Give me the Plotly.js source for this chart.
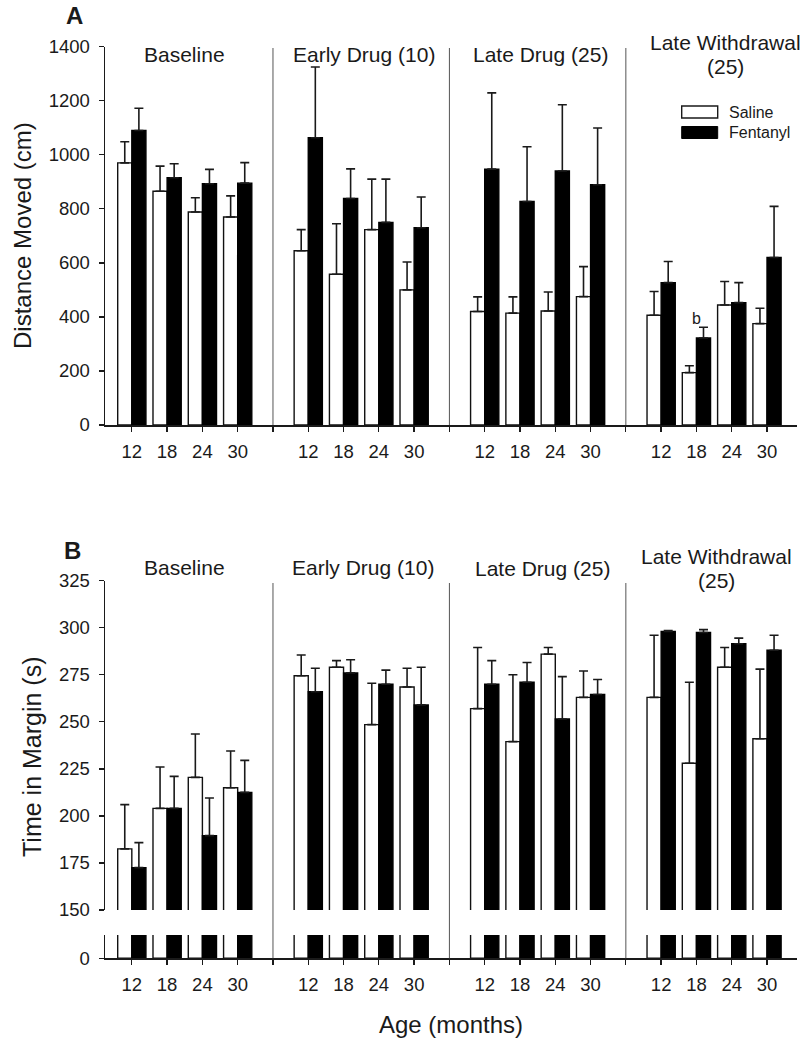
<!DOCTYPE html>
<html><head><meta charset="utf-8">
<script src="https://cdn.plot.ly/plotly-3.0.1.min.js"></script>
<style>html,body{margin:0;padding:0;background:#fff}</style>
</head><body><div id="chart" style="width:800px;height:1041px"></div>
<script>
const phases = ['Baseline', 'Early Drug (10)', 'Late Drug (25)', 'Late Withdrawal<br>(25)'];
const ages = ['12', '18', '24', '30'];
const seriesNames = ['Saline', 'Fentanyl'];

const distSaline     = [970, 865, 788, 770,   645, 558, 723, 500,   420, 414, 422, 475,   406, 194, 444, 375];
const distSalineErr  = [78, 93, 53, 78,       78, 187, 187, 103,    54, 60, 70, 111,      88, 25, 87, 57];
const distFent       = [1090, 915, 893, 895,  1063, 838, 750, 730,  947, 827, 940, 889,   527, 322, 453, 620];
const distFentErr    = [82, 52, 53, 76,       262, 110, 160, 114,   282, 203, 245, 210,   78, 40, 74, 189];

const marginSaline    = [182.5, 204, 220.5, 215,  274.5, 279, 248.5, 268.5,  257, 239.5, 286, 263,    263, 228, 279, 241];
const marginSalineErr = [23.5, 22, 23, 19.5,      11, 3.5, 22, 10,           32.5, 35.5, 3.5, 14,    33, 43, 10.5, 37];
const marginFent      = [172.5, 204, 189.5, 212.5, 266, 276, 270, 259,       270, 271, 251.5, 264.5, 298, 297.5, 291.5, 288];
const marginFentErr   = [13.3, 17, 20, 17,        12.5, 7, 7.5, 20,          12.5, 10.5, 22.5, 8,    0.5, 1.5, 3, 8];

const sigLabel = {text: 'b', phase: 3, age: 1, value: 396};

// ---- layout helpers (page pixels -> paper) ----
const W = 800, H = 1041;
const px = x => x / W;
const py = y => 1 - y / H;
const FONT = 'Arial, "Liberation Sans", Helvetica, sans-serif';
const INK = '#1a1a1a';

// category positions: 4 ages per phase, one empty slot between phases
const xs = [];
const tickvals = [], ticktext = [];
phases.forEach((p, pi) => {
  ages.forEach((a, ai) => { xs.push(pi * 5 + ai); });
});
for (let v = 0; v < phases.length * 5 - 1; v++) {
  tickvals.push(v);
  ticktext.push(v % 5 === 4 ? '' : ages[v % 5]);
}
const separators = [4, 9, 14];
const zeros = xs.map(() => 0);

function barTrace(name, y, err, xa, ya, showErr) {
  const saline = name === 'Saline';
  return {
    type: 'bar', name: name, x: xs, y: y, xaxis: xa, yaxis: ya,
    showlegend: false, cliponaxis: true,
    marker: {color: saline ? '#ffffff' : '#000000', line: {color: saline ? '#111' : '#000', width: 1.4}},
    error_y: showErr ? {type: 'data', symmetric: false, array: err, arrayminus: zeros,
      color: INK, thickness: 1.6, width: 4.5} : {visible: false},
    hoverinfo: 'skip'
  };
}

const data = [
  barTrace(seriesNames[0], distSaline, distSalineErr, 'x', 'y', true),
  barTrace(seriesNames[1], distFent, distFentErr, 'x', 'y', true),
  barTrace(seriesNames[0], marginSaline, marginSalineErr, 'x2', 'y2', true),
  barTrace(seriesNames[1], marginFent, marginFentErr, 'x2', 'y2', true),
  barTrace(seriesNames[0], marginSaline, marginSalineErr, 'x3', 'y3', false),
  barTrace(seriesNames[1], marginFent, marginFentErr, 'x3', 'y3', false)
];

const xDomain = [px(105), px(797)];
const xRange = [-0.76, 18.85];
const tickFont = {family: FONT, size: 18.5, color: INK};

function xAxis(anchor, show) {
  return {
    domain: xDomain, range: xRange, anchor: anchor,
    showline: show, linecolor: INK, linewidth: 1.5,
    ticks: show ? 'outside' : '', ticklen: 5, tickwidth: 1.3, tickcolor: INK,
    tickmode: 'array', tickvals: tickvals, ticktext: ticktext,
    showticklabels: show, tickfont: tickFont, ticklabelstandoff: 4,
    showgrid: false, zeroline: false, fixedrange: true
  };
}
function yAxis(anchor, domain, range, extra) {
  return Object.assign({
    domain: domain, range: range, anchor: anchor,
    showline: true, linecolor: INK, linewidth: 1.5,
    ticks: 'outside', ticklen: 5, tickwidth: 1.3, tickcolor: INK,
    tickfont: tickFont, ticklabelstandoff: 5,
    showgrid: false, zeroline: false, fixedrange: true
  }, extra);
}

const annotations = [];
function txt(text, x, y, size, opts) {
  annotations.push(Object.assign({
    text: text, x: px(x), y: py(y), xref: 'paper', yref: 'paper',
    showarrow: false, xanchor: 'center', yanchor: 'middle',
    font: {family: FONT, size: size, color: INK}
  }, opts || {}));
}

// panel letters
txt('<b>A</b>', 74, 16, 24);
txt('<b>B</b>', 72, 550, 24);

// phase headings
const headA = [[184, 55], [363.5, 55], [540, 55], [725, 42]];
const headB = [[184, 567], [363, 567], [542.5, 568], [716, 556]];
phases.forEach((p, i) => {
  const lines = p.split('<br>');
  lines.forEach((ln, li) => {
    txt(ln, headA[i][0], headA[i][1] + li * 24, 21);
    txt(ln, headB[i][0], headB[i][1] + li * 24, 21);
  });
});

// axis titles
txt('Distance Moved (cm)', 22, 236, 24, {textangle: -90});
txt('Time in Margin (s)', 32, 757, 25, {textangle: -90});
txt('Age (months)', 451, 1024, 24);

// significance label
annotations.push({
  text: sigLabel.text, x: sigLabel.phase * 5 + sigLabel.age, y: sigLabel.value,
  xref: 'x', yref: 'y', showarrow: false, xanchor: 'center', yanchor: 'middle',
  font: {family: FONT, size: 16, color: INK}
});

// legend (drawn)
txt(seriesNames[0], 726.7, 112, 16, {xanchor: 'left'});
txt(seriesNames[1], 726.7, 132.5, 16, {xanchor: 'left'});

const shapes = [
  {type: 'rect', xref: 'paper', yref: 'paper', x0: px(681.7), x1: px(717.7), y0: py(118), y1: py(106),
   fillcolor: '#fff', line: {color: INK, width: 1.4}},
  {type: 'rect', xref: 'paper', yref: 'paper', x0: px(681.7), x1: px(717.7), y0: py(138.5), y1: py(126.5),
   fillcolor: '#000', line: {color: '#000', width: 1}}
];
separators.forEach(s => {
  shapes.push({type: 'line', xref: 'x', yref: 'paper', x0: s, x1: s, y0: py(425), y1: py(48),
    line: {color: '#555', width: 1}});
  shapes.push({type: 'line', xref: 'x3', yref: 'paper', x0: s, x1: s, y0: py(958.3), y1: py(583),
    line: {color: '#555', width: 1}});
});

const layout = {
  width: W, height: H,
  margin: {l: 0, r: 0, t: 0, b: 0},
  paper_bgcolor: '#fff', plot_bgcolor: 'rgba(0,0,0,0)',
  barmode: 'group', bargap: 0.2, bargroupgap: 0,
  showlegend: false,
  font: {family: FONT, color: INK},
  xaxis: xAxis('y', true),
  yaxis: yAxis('x', [py(425), py(46.7)], [0, 1400], {dtick: 200, tick0: 0}),
  xaxis2: xAxis('y2', false),
  yaxis2: yAxis('x2', [py(910), py(580.7)], [150, 325], {dtick: 25, tick0: 150}),
  xaxis3: xAxis('y3', true),
  yaxis3: yAxis('x3', [py(958.3), py(935)], [0, 12.4], {tickmode: 'array', tickvals: [0], ticktext: ['0']}),
  annotations: annotations,
  shapes: shapes
};

Plotly.newPlot('chart', data, layout, {staticPlot: true, displayModeBar: false});
</script>
</body></html>
